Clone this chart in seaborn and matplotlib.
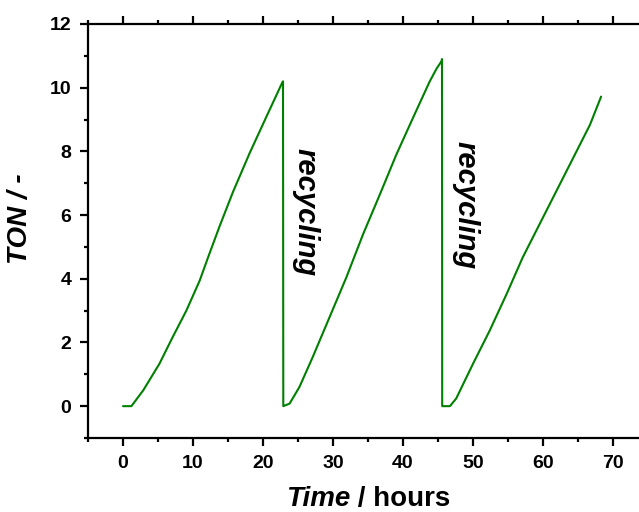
import pandas as pd, numpy as np
import matplotlib
matplotlib.use("Agg")
import matplotlib.pyplot as plt
import seaborn as sns
from matplotlib.ticker import MultipleLocator

# values (time in hours, TON)
time_c1 = [0, 1.2, 2.9, 5.2, 7.1, 9.05, 10.95, 12.2, 13.8, 15.7, 18.1, 20.3, 22.77, 22.86]
ton_c1 = [0, 0, 0.5, 1.33, 2.17, 3.0, 3.94, 4.70, 5.65, 6.72, 7.95, 9.0, 10.17, 10.2]

time_c2 = [22.9, 23.8, 25.2, 27.1, 29.5, 31.9, 34.3, 36.7, 39.05, 41.4, 43.8, 44.8, 45.5, 45.57]
ton_c2 = [0, 0.08, 0.6, 1.54, 2.79, 4.04, 5.40, 6.65, 7.90, 9.04, 10.19, 10.6, 10.83, 10.9]

time_c3 = [45.6, 46.7, 47.6, 50.0, 52.4, 54.8, 57.1, 59.5, 61.9, 64.3, 66.7, 68.3]
ton_c3 = [0, 0, 0.24, 1.33, 2.38, 3.52, 4.67, 5.71, 6.75, 7.79, 8.83, 9.72]

xticks = [0, 10, 20, 30, 40, 50, 60, 70]
yticks = [0, 2, 4, 6, 8, 10, 12]

df = pd.DataFrame({
    "time": time_c1 + time_c2 + time_c3,
    "ton": ton_c1 + ton_c2 + ton_c3,
})

sns.set_style("ticks")
plt.rcParams['font.family'] = ['Liberation Sans', 'DejaVu Sans']
plt.rcParams['font.weight'] = 'bold'
plt.rcParams['text.color'] = 'black'
plt.rcParams['axes.labelcolor'] = 'black'

fig = plt.figure(figsize=(6.39, 5.12), dpi=100)
# right side of the frame runs past the figure edge, like the reference crop
ax = fig.add_axes([88 / 639, 74 / 512, 560 / 639, 414 / 512])

sns.lineplot(data=df, x="time", y="ton", sort=False, estimator=None,
             color="#008000", linewidth=1.5, ax=ax)

ax.set_xlim(-5, 75)
ax.set_ylim(-1, 12)
ax.set_xticks(xticks)
ax.set_yticks(yticks)
ax.xaxis.set_minor_locator(MultipleLocator(5))
ax.yaxis.set_minor_locator(MultipleLocator(1))

for s in ax.spines.values():
    s.set_linewidth(1.6)
    s.set_color("black")

ax.tick_params(which='major', direction='out', length=6, width=1.6,
               top=True, right=False, labelsize=14, pad=6, colors='black')
ax.tick_params(which='minor', direction='out', length=3, width=1.6,
               top=True, right=False, colors='black')
for lab in ax.get_xticklabels() + ax.get_yticklabels():
    lab.set_fontweight('bold')

ax.set_xlabel("")
ax.set_ylabel("TON / -", fontsize=20, fontweight='bold', fontstyle='italic')
ax.yaxis.set_label_coords(-0.098, 0.529)

# x label with italic "Time"
fig.text(0.5475, 0.012, "Time", fontsize=20, fontweight='bold', fontstyle='italic',
         ha='right', va='baseline')
fig.text(0.5475, 0.012, " / hours", fontsize=20, fontweight='bold',
         ha='left', va='baseline')

ax.text(26.1, 6.08, "recycling", rotation=-90, fontsize=21, fontweight='bold',
        fontstyle='italic', ha='center', va='center')
ax.text(48.9, 6.3, "recycling", rotation=-90, fontsize=21, fontweight='bold',
        fontstyle='italic', ha='center', va='center')

fig.savefig("out.png", dpi=100)
